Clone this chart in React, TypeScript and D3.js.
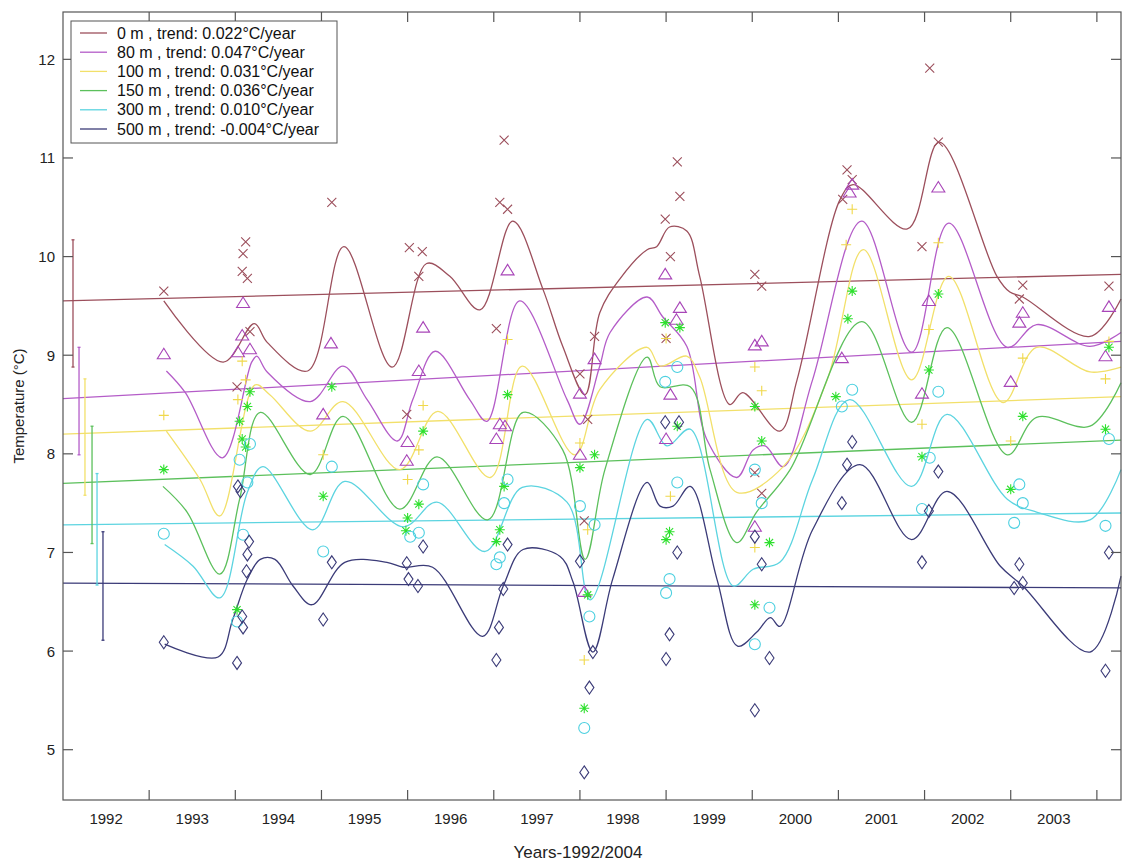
import React from "react";
import * as d3 from "d3";

// ---------- DATA ----------
const yearLabels = [1992, 1993, 1994, 1995, 1996, 1997, 1998, 1999, 2000, 2001, 2002, 2003];
const yearTicks = [1993, 1994, 1995, 1996, 1997, 1998, 1999, 2000, 2001, 2002, 2003, 2004];
const tempTicks = [5, 6, 7, 8, 9, 10, 11, 12];

const depths = ["0 m", "80 m", "100 m", "150 m", "300 m", "500 m"];
const trends = ["0.022", "0.047", "0.031", "0.036", "0.010", "-0.004"];
const trendStart = [9.55, 8.56, 8.2, 7.7, 7.28, 6.69];
const trendEnd = [9.82, 9.14, 8.58, 8.14, 7.4, 6.64];

const errYears = [1992.116, 1992.186, 1992.255, 1992.337, 1992.395, 1992.464];
const errHigh = [10.17, 9.08, 8.76, 8.28, 7.8, 7.21];
const errLow = [8.88, 7.99, 7.58, 7.09, 6.67, 6.11];

// smoothed curves [year, temperature]
const curve0: [number, number][] = [
  [1993.17, 9.55], [1993.86, 8.93], [1994.22, 9.32], [1994.37, 9.13], [1994.84, 8.84], [1995.26, 10.1],
  [1995.82, 8.88], [1996.22, 9.93], [1996.49, 9.8], [1996.84, 9.46], [1997.22, 10.36], [1997.57, 9.67],
  [1997.8, 9.09], [1998.06, 8.6], [1998.23, 9.43], [1998.46, 9.77], [1998.78, 10.07], [1998.89, 10.1],
  [1999.04, 10.3], [1999.24, 10.26], [1999.39, 9.8], [1999.74, 8.5], [1999.89, 8.62], [2000.32, 8.23],
  [2000.52, 8.75], [2001.02, 10.58], [2001.17, 10.73], [2001.8, 10.28], [2002.17, 11.16], [2002.84, 9.8],
  [2002.99, 9.64], [2003.14, 9.59], [2003.92, 9.19], [2004.28, 9.57],
];
const curve80: [number, number][] = [
  [1993.2, 8.84], [1993.42, 8.62], [1993.85, 7.96], [1994.19, 8.93], [1994.25, 8.99], [1994.37, 8.83],
  [1994.87, 8.53], [1995.25, 8.89], [1995.53, 8.55], [1995.88, 8.13], [1996.06, 8.55], [1996.32, 9.04],
  [1996.72, 8.55], [1996.92, 8.33], [1997.3, 9.55], [1997.85, 8.55], [1998.0, 8.3], [1998.23, 8.89],
  [1998.35, 9.23], [1998.78, 9.59], [1998.96, 9.39], [1999.24, 9.09], [1999.47, 8.15], [1999.82, 7.76],
  [2000.01, 8.04], [2000.15, 8.08], [2000.36, 7.87], [2000.7, 8.75], [2001.27, 10.36], [2001.85, 9.03],
  [2002.28, 10.34], [2002.96, 9.08], [2003.3, 9.31], [2003.92, 9.09], [2004.28, 9.23],
];
const curve100: [number, number][] = [
  [1993.2, 8.23], [1993.59, 7.74], [1993.82, 7.37], [1994.23, 8.7], [1994.4, 8.6], [1994.87, 8.23],
  [1995.25, 8.53], [1995.91, 7.84], [1996.35, 8.43], [1996.96, 7.76], [1997.33, 8.89], [1997.94, 7.99],
  [1998.23, 8.65], [1998.78, 9.08], [1998.93, 8.89], [1999.24, 8.99], [1999.39, 8.78], [1999.82, 7.61],
  [2000.36, 7.87], [2000.87, 8.75], [2001.29, 10.07], [2001.85, 8.75], [2002.28, 9.8], [2002.91, 8.52],
  [2003.3, 9.08], [2003.92, 8.83], [2004.28, 8.88],
];
const curve150: [number, number][] = [
  [1993.16, 7.67], [1993.44, 7.41], [1993.82, 6.78], [1994.05, 7.54], [1994.29, 8.42], [1994.87, 7.79],
  [1995.25, 8.38], [1995.91, 7.44], [1996.34, 7.97], [1996.93, 7.33], [1997.34, 8.42], [1997.8, 8.04],
  [1998.06, 6.93], [1998.29, 7.84], [1998.78, 8.98], [1998.93, 8.68], [1999.28, 8.68], [1999.51, 7.84],
  [1999.82, 7.1], [2000.05, 7.41], [2000.44, 7.84], [2001.27, 9.34], [2001.85, 8.32], [2002.26, 9.28],
  [2002.96, 7.99], [2003.3, 8.37], [2003.92, 8.28], [2004.28, 8.72],
];
const curve300: [number, number][] = [
  [1993.18, 7.08], [1993.51, 6.86], [1993.82, 6.54], [1994.14, 7.61], [1994.32, 7.87], [1994.9, 7.23],
  [1995.27, 7.72], [1995.95, 7.26], [1996.34, 7.51], [1996.9, 7.01], [1997.33, 7.66], [1997.85, 7.51],
  [1998.12, 6.52], [1998.78, 8.35], [1999.01, 8.08], [1999.28, 8.25], [1999.78, 6.66], [2000.01, 6.83],
  [2000.32, 6.9], [2000.7, 7.74], [2001.13, 8.55], [2001.85, 7.67], [2002.26, 8.4], [2002.96, 7.54],
  [2003.3, 7.41], [2003.92, 7.33], [2004.28, 7.84],
];
const curve500: [number, number][] = [
  [1993.18, 6.07], [1993.8, 5.94], [1993.97, 6.32], [1994.14, 6.73], [1994.29, 6.93], [1994.46, 6.93],
  [1994.67, 6.66], [1994.89, 6.47], [1995.27, 6.9], [1995.76, 6.9], [1995.95, 6.85], [1996.29, 6.85],
  [1996.87, 6.15], [1997.11, 6.66], [1997.34, 7.03], [1997.77, 6.96], [1997.92, 6.7], [1998.15, 5.99],
  [1998.38, 6.73], [1998.78, 7.71], [1998.93, 7.47], [1999.08, 7.47], [1999.28, 7.67], [1999.59, 6.73],
  [1999.83, 6.05], [2000.05, 6.19], [2000.21, 6.34], [2000.32, 6.25], [2000.7, 7.23], [2001.25, 7.89],
  [2001.85, 7.13], [2002.26, 7.62], [2002.88, 6.86], [2003.14, 6.66], [2003.92, 5.99], [2004.28, 6.76],
];

// observations [year, temperature]
const obs0: [number, number][] = [
  [1993.17, 9.65], [1994.12, 10.15], [1994.09, 10.03], [1994.08, 9.85], [1994.14, 9.78], [1994.17, 9.24],
  [1994.02, 8.68], [1995.12, 10.55], [1996.02, 10.09], [1996.17, 10.05], [1996.13, 9.8], [1995.99, 8.4],
  [1997.12, 11.18], [1997.07, 10.55], [1997.16, 10.48], [1997.03, 9.27], [1998.17, 9.19], [1998.0, 8.81],
  [1998.09, 8.35], [1998.05, 7.32], [1999.13, 10.96], [1999.16, 10.61], [1998.99, 10.38], [1999.05, 10.0],
  [1999.0, 9.17], [2000.03, 9.82], [2000.11, 9.7], [2000.03, 7.81], [2000.11, 7.6], [2001.1, 10.88],
  [2001.16, 10.78], [2001.05, 10.58], [2002.06, 11.91], [2002.16, 11.16], [2001.97, 10.1], [2003.14, 9.71],
  [2003.1, 9.57], [2004.14, 9.7],
];
const obs80: [number, number][] = [
  [1993.17, 9.01], [1994.09, 9.53], [1994.08, 9.2], [1994.03, 9.03], [1994.17, 9.06], [1995.11, 9.12],
  [1995.02, 8.4], [1996.18, 9.28], [1996.13, 8.84], [1996.0, 8.12], [1995.99, 7.93], [1997.16, 9.86],
  [1997.07, 8.3], [1997.13, 8.28], [1997.03, 8.15], [1998.17, 8.96], [1998.0, 8.61], [1998.05, 6.6],
  [1998.0, 7.99], [1998.99, 9.82], [1999.16, 9.48], [1999.12, 9.36], [1999.05, 8.6], [1999.0, 8.15],
  [2000.03, 9.1], [2000.11, 9.14], [2000.03, 7.26], [2001.04, 8.97], [2001.16, 10.73], [2001.13, 10.65],
  [2002.16, 10.7], [2001.97, 8.61], [2002.05, 9.55], [2003.14, 9.43], [2003.1, 9.33], [2003.0, 8.73],
  [2004.14, 9.49], [2004.1, 8.99],
];
const obs100: [number, number][] = [
  [1993.17, 8.39], [1994.08, 8.94], [1994.03, 8.55], [1994.12, 8.75], [1995.02, 7.99], [1996.18, 8.49],
  [1996.13, 8.04], [1996.0, 7.74], [1997.16, 9.16], [1998.0, 8.11], [1998.09, 7.23], [1998.05, 5.91],
  [1999.0, 9.17], [1999.05, 7.57], [2000.03, 8.88], [2000.11, 8.64], [2000.03, 7.05], [2001.16, 10.48],
  [2001.09, 10.12], [2002.16, 10.14], [2002.05, 9.26], [2001.97, 8.3], [2003.14, 8.97], [2003.0, 8.13],
  [2004.1, 8.76], [2004.14, 9.14],
];
const obs150: [number, number][] = [
  [1993.17, 7.84], [1994.17, 8.63], [1994.14, 8.48], [1994.05, 8.33], [1994.08, 8.15], [1994.12, 8.07],
  [1994.02, 6.42], [1995.12, 8.68], [1995.02, 7.57], [1996.18, 8.23], [1996.13, 7.49], [1996.0, 7.35],
  [1995.98, 7.22], [1997.16, 8.6], [1997.12, 7.67], [1997.07, 7.23], [1997.03, 7.11], [1998.0, 7.86],
  [1998.17, 7.99], [1998.09, 6.57], [1998.05, 5.42], [1998.99, 9.33], [1999.16, 9.28], [1999.13, 8.28],
  [1999.04, 7.21], [1999.0, 7.13], [2000.03, 8.48], [2000.11, 8.13], [2000.03, 6.47], [2000.2, 7.1],
  [2000.97, 8.58], [2001.16, 9.65], [2001.11, 9.37], [2002.16, 9.62], [2002.05, 8.85], [2001.97, 7.97],
  [2003.14, 8.38], [2003.0, 7.64], [2004.1, 8.25], [2004.14, 9.08],
];
const obs300: [number, number][] = [
  [1993.17, 7.19], [1994.17, 8.1], [1994.05, 7.94], [1994.14, 7.71], [1994.09, 7.18], [1994.02, 6.3],
  [1995.12, 7.87], [1995.02, 7.01], [1996.18, 7.69], [1996.13, 7.2], [1996.03, 7.16], [1997.16, 7.74],
  [1997.12, 7.5], [1997.07, 6.95], [1997.03, 6.88], [1998.0, 7.47], [1998.17, 7.28], [1998.11, 6.35],
  [1998.05, 5.22], [1999.13, 8.88], [1998.99, 8.73], [1999.13, 7.71], [1999.04, 6.73], [1999.0, 6.59],
  [2000.03, 7.84], [2000.11, 7.5], [2000.03, 6.07], [2000.2, 6.44], [2001.16, 8.65], [2001.04, 8.48],
  [2002.16, 8.63], [2002.06, 7.96], [2001.97, 7.44], [2003.1, 7.69], [2003.14, 7.5], [2003.04, 7.3],
  [2004.14, 8.15], [2004.1, 7.27],
];
const obs500: [number, number][] = [
  [1993.17, 6.09], [1994.16, 7.11], [1994.14, 6.98], [1994.13, 6.81], [1994.08, 6.35], [1994.09, 6.24],
  [1994.02, 5.88], [1994.03, 7.67], [1994.06, 7.62], [1995.12, 6.9], [1995.02, 6.32], [1996.18, 7.06],
  [1995.99, 6.89], [1996.01, 6.73], [1996.12, 6.66], [1997.16, 7.08], [1997.11, 6.63], [1997.06, 6.24],
  [1997.03, 5.91], [1998.0, 6.91], [1998.15, 5.99], [1998.11, 5.63], [1998.05, 4.77], [1998.99, 8.32],
  [1999.15, 8.32], [1999.13, 7.0], [1999.04, 6.17], [1999.0, 5.92], [2000.03, 7.16], [2000.11, 6.88],
  [2000.2, 5.93], [2000.03, 5.4], [2001.16, 8.12], [2001.1, 7.89], [2001.04, 7.5], [2002.05, 7.42],
  [2002.16, 7.82], [2001.97, 6.9], [2003.1, 6.88], [2003.14, 6.69], [2003.04, 6.64], [2004.14, 7.0],
  [2004.1, 5.8],
];

const curves = [curve0, curve80, curve100, curve150, curve300, curve500];
const observations = [obs0, obs80, obs100, obs150, obs300, obs500];

const lineColors = ["#9c4f5c", "#b45cc8", "#f2e06a", "#5cc05c", "#5cd4e0", "#3b3b78"];
const markerColors = ["#9c4f5c", "#a845b8", "#f0d84a", "#2ee02e", "#4cd0e0", "#3b3b78"];
const markerTypes = ["x", "triangle", "plus", "star", "circle", "diamond"];

// ---------- LAYOUT ----------
const W = 1124;
const H = 866;
const L = 63;
const R = 1121;
const T = 12;
const B = 800;

const x = d3.scaleLinear().domain([1992, 2004.28]).range([L, R]);
const y = d3.scaleLinear().domain([4.49, 12.48]).range([B, T]);

function markerPath(type: string): string {
  switch (type) {
    case "x":
      return "M-4.5,-4.5L4.5,4.5M-4.5,4.5L4.5,-4.5";
    case "plus":
      return "M-5,0L5,0M0,-5L0,5";
    case "star":
      return "M-5,0L5,0M0,-5L0,5M-3.6,-3.6L3.6,3.6M-3.6,3.6L3.6,-3.6";
    case "triangle":
      return "M0,-6L6.5,4.5L-6.5,4.5Z";
    case "diamond":
      return "M0,-6.5L4.5,0L0,6.5L-4.5,0Z";
    default:
      return "";
  }
}

export default function App() {
  const line = d3
    .line<[number, number]>()
    .x((d) => x(d[0]))
    .y((d) => y(d[1]))
    .curve(d3.curveCatmullRom.alpha(0.5));

  const font = "'Liberation Sans', Arial, sans-serif";

  return (
    <svg
      width={W}
      height={H}
      style={{ position: "absolute", left: 0, top: 0, background: "#fff" }}
      fontFamily={font}
    >
      <rect x={0} y={0} width={W} height={H} fill="#fff" />
      {/* trend lines */}
      {trendStart.map((s, i) => (
        <line
          key={"t" + i}
          x1={x(1992)}
          x2={x(2004.28)}
          y1={y(s)}
          y2={y(trendEnd[i])}
          stroke={lineColors[i]}
          strokeWidth={1.3}
        />
      ))}
      {/* error bars */}
      {errYears.map((yr, i) => (
        <g key={"e" + i} stroke={lineColors[i]} strokeWidth={1.3}>
          <line x1={x(yr)} x2={x(yr)} y1={y(errHigh[i])} y2={y(errLow[i])} />
          <line x1={x(yr) - 1.5} x2={x(yr) + 1.5} y1={y(errHigh[i])} y2={y(errHigh[i])} />
          <line x1={x(yr) - 1.5} x2={x(yr) + 1.5} y1={y(errLow[i])} y2={y(errLow[i])} />
        </g>
      ))}
      {/* smoothed curves */}
      {curves.map((c, i) => (
        <path key={"c" + i} d={line(c) || ""} fill="none" stroke={lineColors[i]} strokeWidth={1.3} />
      ))}
      {/* markers */}
      {observations.map((obs, i) =>
        obs.map((d, j) =>
          markerTypes[i] === "circle" ? (
            <circle
              key={"m" + i + "-" + j}
              cx={x(d[0])}
              cy={y(d[1])}
              r={5.5}
              fill="none"
              stroke={markerColors[i]}
              strokeWidth={1.1}
            />
          ) : (
            <path
              key={"m" + i + "-" + j}
              transform={`translate(${x(d[0])},${y(d[1])})`}
              d={markerPath(markerTypes[i])}
              fill="none"
              stroke={markerColors[i]}
              strokeWidth={1.1}
            />
          )
        )
      )}
      {/* axes box */}
      <rect x={L} y={T} width={R - L} height={B - T} fill="none" stroke="#555" strokeWidth={1.2} />
      {yearTicks.map((t) => (
        <g key={"xt" + t} stroke="#555" strokeWidth={1.2}>
          <line x1={x(t)} x2={x(t)} y1={B} y2={B - 10} />
          <line x1={x(t)} x2={x(t)} y1={T} y2={T + 10} />
        </g>
      ))}
      {tempTicks.map((t) => (
        <g key={"yt" + t} stroke="#555" strokeWidth={1.2}>
          <line x1={L} x2={L + 10} y1={y(t)} y2={y(t)} />
          <line x1={R} x2={R - 10} y1={y(t)} y2={y(t)} />
        </g>
      ))}
      {yearLabels.map((t) => (
        <text key={"xl" + t} x={x(t + 0.5)} y={B + 24} fontSize={15} textAnchor="middle" fill="#222">
          {t}
        </text>
      ))}
      {tempTicks.map((t) => (
        <text key={"yl" + t} x={L - 8} y={y(t) + 5.5} fontSize={15} textAnchor="end" fill="#222">
          {t}
        </text>
      ))}
      <text x={578} y={858} fontSize={17} textAnchor="middle" fill="#222">
        Years-1992/2004
      </text>
      <text
        transform={`translate(24,${(T + B) / 2}) rotate(-90)`}
        fontSize={15}
        textAnchor="middle"
        fill="#222"
      >
        Temperature (°C)
      </text>
      {/* legend */}
      <rect x={71} y={21} width={266} height={122} fill="#fff" stroke="#555" strokeWidth={1} />
      {depths.map((dname, i) => (
        <g key={"lg" + i}>
          <line x1={80} x2={107} y1={33 + i * 19.2} y2={33 + i * 19.2} stroke={lineColors[i]} strokeWidth={1.3} />
          <text x={117} y={38.5 + i * 19.2} fontSize={16} fill="#111">
            {`${dname} , trend: ${trends[i]}°C/year`}
          </text>
        </g>
      ))}
    </svg>
  );
}
